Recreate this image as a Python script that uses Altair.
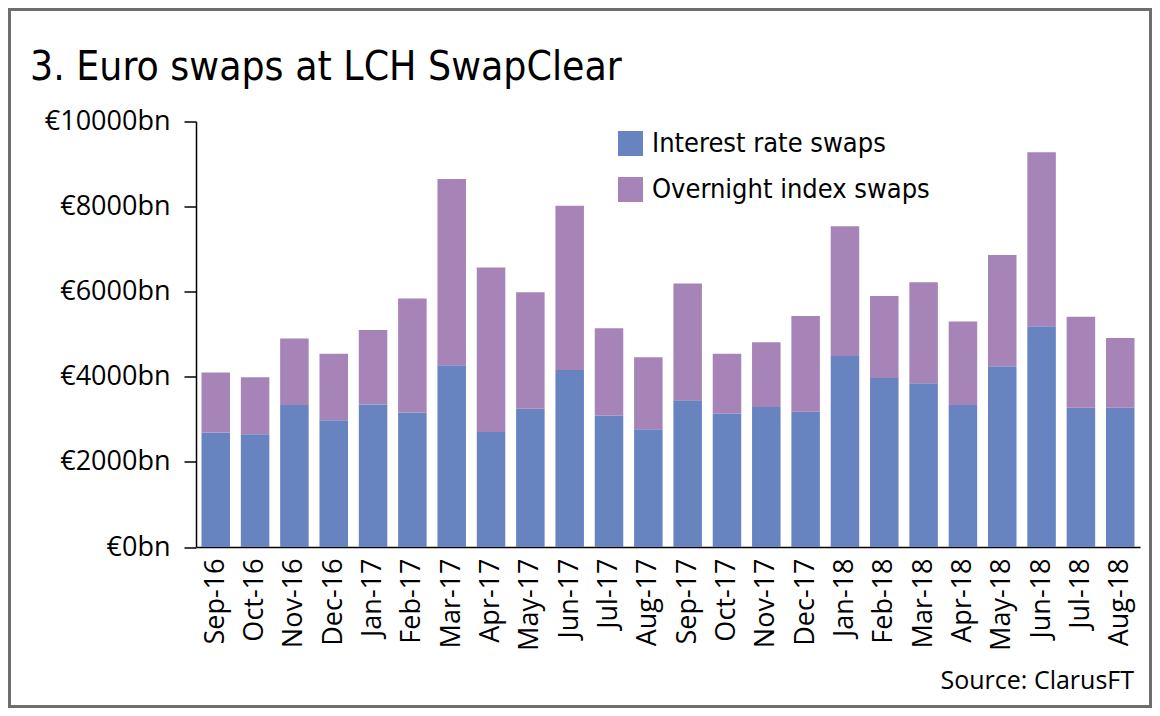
import altair as alt
import pandas as pd

months = ["Sep-16", "Oct-16", "Nov-16", "Dec-16", "Jan-17", "Feb-17", "Mar-17", "Apr-17",
          "May-17", "Jun-17", "Jul-17", "Aug-17", "Sep-17", "Oct-17", "Nov-17", "Dec-17",
          "Jan-18", "Feb-18", "Mar-18", "Apr-18", "May-18", "Jun-18", "Jul-18", "Aug-18"]
# stacked totals and interest-rate-swap part (EUR bn)
totals = [4100, 3990, 4900, 4540, 5100, 5840, 8650, 6570, 5990, 8020, 5140, 4460,
          6190, 4540, 4810, 5430, 7540, 5900, 6220, 5300, 6860, 9280, 5410, 4910]
irs = [2690, 2650, 3340, 2980, 3350, 3160, 4270, 2700, 3250, 4160, 3090, 2770,
       3450, 3130, 3290, 3180, 4490, 3970, 3850, 3340, 4250, 5190, 3270, 3270]
ois = [t - i for t, i in zip(totals, irs)]

series = ["Interest rate swaps", "Overnight index swaps"]
colors = ["#6884C0", "#A784B7"]
title_text = "3. Euro swaps at LCH SwapClear"
source_text = "Source: ClarusFT"
y_ticks = [0, 2000, 4000, 6000, 8000, 10000]

rows = []
for m, a, b in zip(months, irs, ois):
    rows.append({"month": m, "series": series[0], "value": a, "k": 0})
    rows.append({"month": m, "series": series[1], "value": b, "k": 1})
df = pd.DataFrame(rows)

NARROW = "DejaVu Sans Condensed, Open Sans, sans-serif"
REG = "Open Sans, sans-serif"

bars = alt.Chart(df).mark_bar().encode(
    x=alt.X("month:N", sort=months, title=None,
            scale=alt.Scale(paddingInner=0.275, paddingOuter=0.14),
            axis=alt.Axis(labelAngle=-90, ticks=False, labelPadding=11,
                          labelFont=REG, labelFontSize=27, labelColor="black",
                          domainColor="black", domainWidth=1.5)),
    y=alt.Y("value:Q", stack="zero", title=None,
            scale=alt.Scale(domain=[0, 10000], nice=False),
            axis=alt.Axis(values=y_ticks, labelExpr="'€' + datum.value + 'bn'",
                          grid=False, tickSize=12, tickColor="black", tickWidth=1.5,
                          domainColor="black", domainWidth=1.5, labelPadding=14,
                          labelFont=REG, labelFontSize=27, labelColor="black")),
    color=alt.Color("series:N", scale=alt.Scale(domain=series, range=colors),
                    legend=alt.Legend(title=None, orient="none", legendX=421, legendY=8.5,
                                      padding=0, symbolType="square", symbolSize=625,
                                      symbolStrokeWidth=0, labelFont=NARROW,
                                      labelFontSize=27, labelColor="black", labelLimit=0,
                                      labelOffset=8, rowPadding=18)),
    order=alt.Order("k:Q", sort="ascending"),
)

title = alt.Chart(pd.DataFrame({"t": [title_text]})).mark_text(
    align="left", baseline="alphabetic", font=NARROW, fontSize=40.5, color="black"
).encode(text="t:N", x=alt.value(-166), y=alt.value(-41.5))

source = alt.Chart(pd.DataFrame({"t": [source_text]})).mark_text(
    align="right", baseline="alphabetic", font=REG, fontSize=25, color="black"
).encode(text="t:N", x=alt.value(938), y=alt.value(567))

frame = alt.Chart(pd.DataFrame({"t": [0]})).mark_rect(
    fill=None, stroke="#6e6e6e", strokeWidth=3
).encode(x=alt.value(-186.5), x2=alt.value(954.5), y=alt.value(-112), y2=alt.value(585))

chart = alt.layer(frame, bars, title, source).properties(
    width=944, height=425.5, background="white",
    padding={"left": 188, "top": 113.5, "right": 12, "bottom": 161},
    autosize=alt.AutoSizeParams(type="none"),
).configure_view(strokeWidth=0, stroke="transparent")

chart.save("out.html", embed_options={"renderer": "svg", "actions": False})
